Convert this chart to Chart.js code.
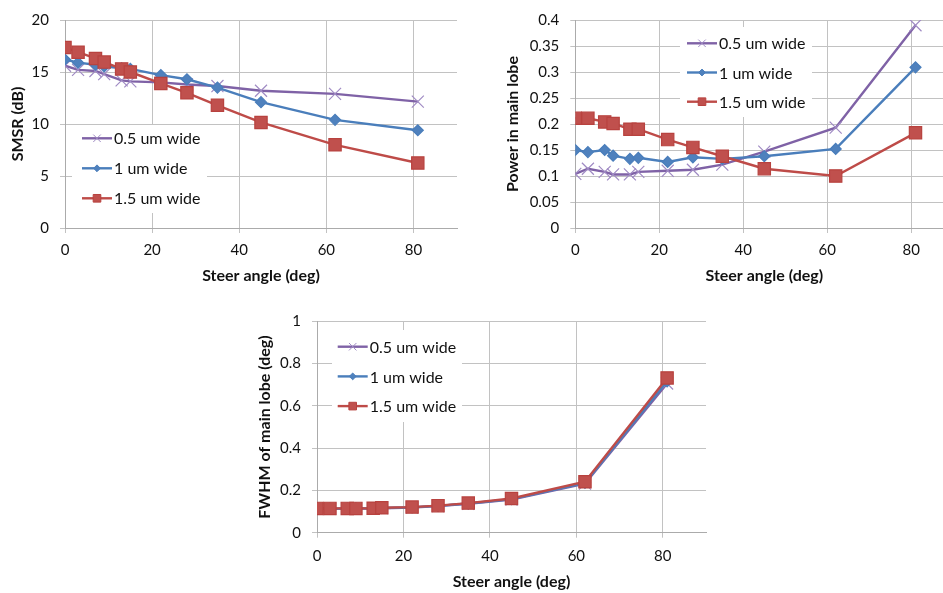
<!DOCTYPE html>
<html>
<head>
<meta charset="utf-8">
<script src="https://cdn.jsdelivr.net/npm/chart.js@4"></script>
<style>
  html, body { margin: 0; padding: 0; background: #fff; }
  body { width: 943px; height: 593px; overflow: hidden; position: relative; }
  canvas { position: absolute; }
  #smsr { left: 0; top: 0; }
  #power { left: 470px; top: 0; }
  #fwhm { left: 240px; top: 300px; }
</style>
</head>
<body>
<canvas id="smsr" width="470" height="290"></canvas>
<canvas id="power" width="500" height="290"></canvas>
<canvas id="fwhm" width="480" height="293"></canvas>
<script>
// steer angles shared by all three plots
const steerAngle = [0, 3, 7, 9, 13, 15, 22, 28, 35, 45, 62, 81];
const widthLabels = ['0.5 um wide', '1 um wide', '1.5 um wide'];

const smsr05 = [15.6, 15.2, 15.1, 14.8, 14.2, 14.1, 14.0, 13.8, 13.65, 13.2, 12.9, 12.15];
const smsr10 = [16.2, 15.9, 15.7, 15.55, 15.35, 15.3, 14.7, 14.3, 13.5, 12.1, 10.4, 9.4];
const smsr15 = [17.35, 16.9, 16.3, 15.95, 15.3, 15.0, 13.9, 13.0, 11.8, 10.15, 8.0, 6.25];

const power05 = [0.104, 0.114, 0.108, 0.103, 0.103, 0.108, 0.110, 0.112, 0.122, 0.147, 0.193, 0.390];
const power10 = [0.150, 0.146, 0.150, 0.139, 0.133, 0.135, 0.127, 0.136, 0.133, 0.138, 0.152, 0.309];
const power15 = [0.211, 0.211, 0.204, 0.201, 0.190, 0.190, 0.170, 0.155, 0.138, 0.114, 0.100, 0.183];

const fwhm05 = [0.113, 0.113, 0.114, 0.114, 0.114, 0.116, 0.119, 0.126, 0.137, 0.157, 0.232, 0.706];
const fwhm10 = [0.114, 0.114, 0.114, 0.115, 0.115, 0.117, 0.120, 0.127, 0.138, 0.159, 0.236, 0.716];
const fwhm15 = [0.115, 0.115, 0.115, 0.115, 0.116, 0.118, 0.121, 0.128, 0.140, 0.162, 0.241, 0.732];

const xTicks = [0, 20, 40, 60, 80];

const FONT = 'Lato, "Open Sans", sans-serif';
const TEXT = '#111';
const GRID = '#c2c2c2';

const seriesStyle = [
    { line: '#7f62a6', marker: '#a08bc4', fill: '#a08bc4', pointStyle: 'crossRot', radius: 8.5, order: 2 },
    { line: '#4a7ebb', marker: '#4a7ebb', fill: '#4f81bd', pointStyle: 'rectRot', radius: 5.5, order: 1 },
    { line: '#be4b48', marker: '#b8423f', fill: '#c0504d', pointStyle: 'rect', radius: 8.7, order: 0 },
];

function drawMarker(ctx, style, x, y, r, fill, stroke) {
    ctx.save();
    ctx.fillStyle = fill;
    ctx.strokeStyle = stroke;
    ctx.lineWidth = 1;
    ctx.beginPath();
    if (style === 'crossRot') {
        const d = r * Math.SQRT1_2;
        ctx.moveTo(x - d, y - d); ctx.lineTo(x + d, y + d);
        ctx.moveTo(x + d, y - d); ctx.lineTo(x - d, y + d);
        ctx.stroke();
    } else if (style === 'rectRot') {
        ctx.moveTo(x - r, y); ctx.lineTo(x, y - r); ctx.lineTo(x + r, y); ctx.lineTo(x, y + r);
        ctx.closePath(); ctx.fill(); ctx.stroke();
    } else {
        const s = r * Math.SQRT1_2;
        ctx.rect(x - s, y - s, 2 * s, 2 * s);
        ctx.fill(); ctx.stroke();
    }
    ctx.restore();
}

// Excel style legend: white box inside the plot, short line with marker
const insideLegend = {
    id: 'insideLegend',
    beforeDatasetsDraw(chart, args, opts) {
        const ctx = chart.ctx;
        ctx.save();
        ctx.fillStyle = '#fff';
        ctx.fillRect(opts.box[0], opts.box[1], opts.box[2], opts.box[3]);
        ctx.font = '16px ' + FONT;
        ctx.textBaseline = 'middle';
        chart.data.datasets.forEach((ds, i) => {
            const y = opts.y + i * opts.row;
            const st = seriesStyle[i];
            ctx.strokeStyle = ds.borderColor;
            ctx.lineWidth = ds.borderWidth;
            ctx.beginPath();
            ctx.moveTo(opts.x, y);
            ctx.lineTo(opts.x + 30, y);
            ctx.stroke();
            drawMarker(ctx, st.pointStyle, opts.x + 15, y, st.radius * 0.62, st.fill, st.marker);
            ctx.fillStyle = TEXT;
            ctx.fillText(ds.label, opts.x + 32, y + 1);
        });
        ctx.restore();
    }
};

function makeChart(id, series, yTitle, yMax, yStep, geo) {
    const datasets = series.map((values, i) => {
        const st = seriesStyle[i];
        return {
            label: widthLabels[i],
            data: steerAngle.map((a, k) => ({ x: a, y: values[k] })),
            borderColor: st.line,
            borderWidth: 2.4,
            pointStyle: st.pointStyle,
            pointRadius: st.radius,
            pointBackgroundColor: st.fill,
            pointBorderColor: st.marker,
            pointBorderWidth: 1.2,
            tension: 0,
            order: st.order,
        };
    });
    return new Chart(document.getElementById(id), {
        type: 'line',
        data: { datasets },
        options: {
            responsive: false,
            animation: false,
            layout: { padding: { top: geo.top, right: geo.right, left: 0, bottom: 0 } },
            scales: {
                x: {
                    type: 'linear',
                    min: 0,
                    max: 90,
                    afterBuildTicks: s => { s.ticks = xTicks.map(v => ({ value: v })); },
                    afterFit: s => { s.height = geo.xHeight; },
                    grid: { color: GRID, tickColor: GRID, tickLength: 5 },
                    border: { color: '#ababab' },
                    ticks: { padding: geo.xPad, color: TEXT, font: { family: FONT, size: 15 } },
                    title: {
                        display: true, text: 'Steer angle (deg)', color: TEXT,
                        font: { family: FONT, size: 16, weight: 'bold' },
                        padding: { top: 0, bottom: geo.xTitle }
                    }
                },
                y: {
                    min: 0,
                    max: yMax,
                    afterFit: s => { s.width = geo.left; },
                    grid: { color: GRID, tickColor: GRID, tickLength: 5 },
                    border: { color: '#ababab' },
                    ticks: {
                        stepSize: yStep, padding: 11, color: TEXT,
                        font: { family: FONT, size: 15 },
                        callback: v => String(+v.toFixed(2))
                    },
                    title: {
                        display: true, text: yTitle, color: TEXT,
                        font: { family: FONT, size: 16, weight: 'bold' },
                        padding: { top: geo.yTitle, bottom: 0 }
                    }
                }
            },
            plugins: {
                legend: { display: false },
                tooltip: { enabled: false },
                insideLegend: geo.legend
            }
        },
        plugins: [insideLegend]
    });
}

makeChart('smsr', [smsr05, smsr10, smsr15], 'SMSR (dB)', 20, 5, {
    top: 16, right: 13, left: 65, xHeight: 62, xPad: 8, xTitle: 4.4, yTitle: 8.4,
    legend: { box: [72, 125, 135, 88], x: 82, y: 138.3, row: 30 }
});

makeChart('power', [power05, power10, power15], 'Power in main lobe', 0.4, 0.05, {
    top: 15.3, right: 16.7, left: 105.3, xHeight: 62, xPad: 8, xTitle: 4.4, yTitle: 33.4,
    legend: { box: [210, 27, 132, 90], x: 217, y: 43.3, row: 29.2 }
});

makeChart('fwhm', [fwhm05, fwhm10, fwhm15], 'FWHM of main lobe (deg)', 1, 0.2, {
    top: 21.3, right: 14, left: 77, xHeight: 60.3, xPad: 9.3, xTitle: 1.7, yTitle: 15.4,
    legend: { box: [92, 30, 130, 92], x: 97.7, y: 46.7, row: 29.7 }
});
</script>
</body>
</html>
